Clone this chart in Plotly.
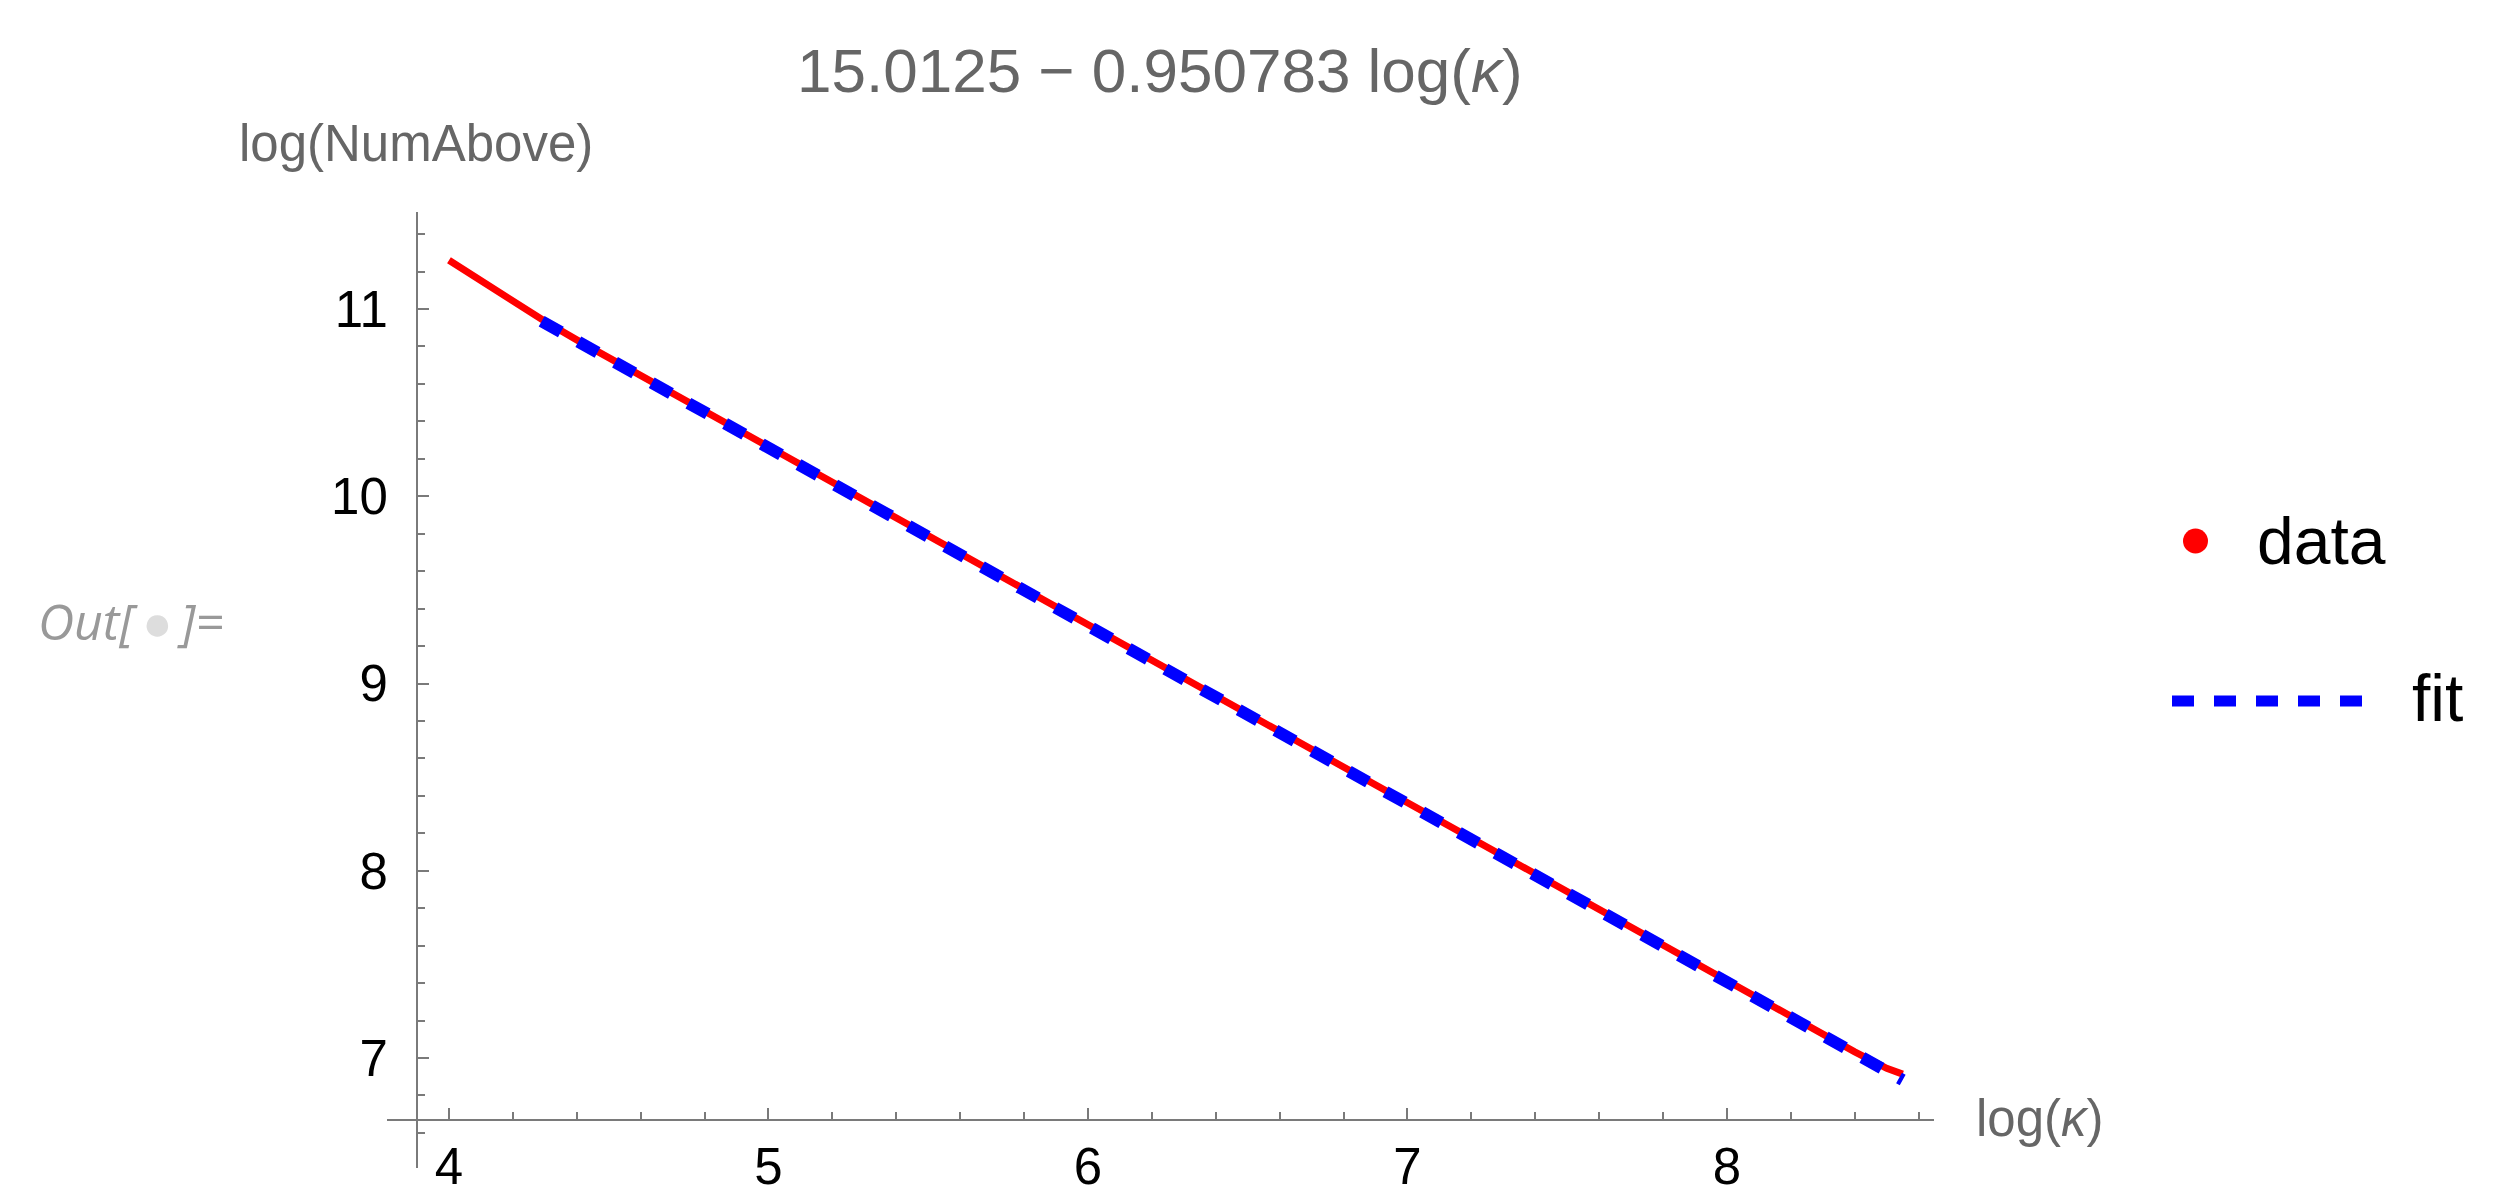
import plotly.graph_objects as go

# ---------------- data ----------------
data_x = [4.0, 4.1, 4.2, 4.3, 4.4, 4.5, 4.6, 4.7, 4.8, 4.9,
          5.0, 5.1, 5.2, 5.3, 5.4, 5.5, 5.6, 5.7, 5.8, 5.9,
          6.0, 6.1, 6.2, 6.3, 6.4, 6.5, 6.6, 6.7, 6.8, 6.9,
          7.0, 7.1, 7.2, 7.3, 7.4, 7.5, 7.6, 7.7, 7.8, 7.9,
          8.0, 8.1, 8.2, 8.3, 8.4, 8.5, 8.55]
data_y = [11.26, 11.15, 11.04, 10.935, 10.835, 10.740, 10.645, 10.548, 10.452, 10.356,
          10.262, 10.166, 10.070, 9.975, 9.880, 9.784, 9.688, 9.592, 9.497, 9.402,
          9.307, 9.212, 9.117, 9.022, 8.926, 8.830, 8.736, 8.641, 8.546, 8.451,
          8.357, 8.262, 8.168, 8.073, 7.978, 7.882, 7.787, 7.692, 7.597, 7.502,
          7.408, 7.314, 7.220, 7.126, 7.033, 6.945, 6.914]

fit_x = [4.29, 8.55]
fit_y = [10.934, 6.883]

x_ticks = [4, 5, 6, 7, 8]
y_ticks = [7, 8, 9, 10, 11]

title_text = "15.0125 \u2212 0.950783 log(<i>\u03ba</i>)"
x_label = "log(<i>\u03ba</i>)"
y_label = "log(NumAbove)"
legend_labels = ["data", "fit"]

# ---------------- layout geometry (pixels) ----------------
W, H = 2495, 1201
L, R, T, B = 379, 1926, 204, 1160
PW, PH = R - L, B - T


def px(X):
    return (X - L) / PW


def py(Y):
    return (B - Y) / PH


FONT = "Liberation Sans, Arial, sans-serif"
AXIS_COL = "#7a7a7a"
TXT_GRAY = "#666666"

fig = go.Figure()
fig.add_trace(go.Scatter(x=data_x, y=data_y, mode="lines",
                         line=dict(color="#ff0000", width=7),
                         name=legend_labels[0], showlegend=False))
fig.add_trace(go.Scatter(x=fit_x, y=fit_y, mode="lines",
                         line=dict(color="#0000ff", width=12, dash="22px,20px"),
                         name=legend_labels[1], showlegend=False))

fig.update_layout(
    width=W, height=H,
    margin=dict(l=L, r=W - R, t=T, b=H - B, pad=0),
    plot_bgcolor="white", paper_bgcolor="white",
    font=dict(family=FONT, size=51, color="black"),
    showlegend=False,
    xaxis=dict(range=[3.806, 8.648], domain=[0, 1], anchor="free",
               position=py(1112), showgrid=False, zeroline=False,
               showline=True, linecolor=AXIS_COL, linewidth=2,
               tickmode="array", tickvals=x_ticks,
               ticks="inside", ticklen=11, tickwidth=2, tickcolor=AXIS_COL,
               minor=dict(dtick=0.2, ticks="inside", ticklen=7, tickwidth=2,
                          tickcolor=AXIS_COL, showgrid=False),
               tickfont=dict(family=FONT, size=51, color="black"),
               ticklabelstandoff=2),
    yaxis=dict(range=[6.4126, 11.518], domain=[0, 1], anchor="free",
               position=px(409), showgrid=False, zeroline=False,
               showline=True, linecolor=AXIS_COL, linewidth=2,
               tickmode="array", tickvals=y_ticks,
               ticks="inside", ticklen=11, tickwidth=2, tickcolor=AXIS_COL,
               minor=dict(dtick=0.2, ticks="inside", ticklen=7, tickwidth=2,
                          tickcolor=AXIS_COL, showgrid=False),
               tickfont=dict(family=FONT, size=51, color="black"),
               ticklabelstandoff=18),
)

ann = []
ann.append(dict(text=title_text, x=px(1152), y=py(62), xref="paper", yref="paper",
                xanchor="center", yanchor="middle", showarrow=False,
                font=dict(family=FONT, size=62, color=TXT_GRAY)))
ann.append(dict(text=y_label, x=px(408), y=py(135), xref="paper", yref="paper",
                xanchor="center", yanchor="middle", showarrow=False,
                font=dict(family=FONT, size=51, color=TXT_GRAY)))
ann.append(dict(text=x_label, x=px(1966), y=py(1110), xref="paper", yref="paper",
                xanchor="left", yanchor="middle", showarrow=False,
                font=dict(family=FONT, size=51, color=TXT_GRAY)))
ann.append(dict(text="<i>Out[</i><span style='color:#dddddd'>\u2009\u25cf\u2009</span><i>]=</i>",
                x=px(28), y=py(613), xref="paper", yref="paper",
                xanchor="left", yanchor="middle", showarrow=False,
                font=dict(family="Open Sans, sans-serif", size=50, color="#999999")))
ann.append(dict(text=legend_labels[0], x=px(2247), y=py(533), xref="paper", yref="paper",
                xanchor="left", yanchor="middle", showarrow=False,
                font=dict(family=FONT, size=66, color="black")))
ann.append(dict(text=legend_labels[1], x=px(2402), y=py(690), xref="paper", yref="paper",
                xanchor="left", yanchor="middle", showarrow=False,
                font=dict(family=FONT, size=66, color="black")))
fig.update_layout(annotations=ann)

shapes = [
    dict(type="circle", xref="paper", yref="paper",
         x0=px(2175), x1=px(2200), y0=py(545.5), y1=py(520.5),
         fillcolor="#ff0000", line=dict(width=0)),
    dict(type="line", xref="paper", yref="paper",
         x0=px(2164), x1=px(2354), y0=py(693), y1=py(693),
         line=dict(color="#0000ff", width=11, dash="22px,20px")),
]
fig.update_layout(shapes=shapes)

fig.write_html("out.html")
